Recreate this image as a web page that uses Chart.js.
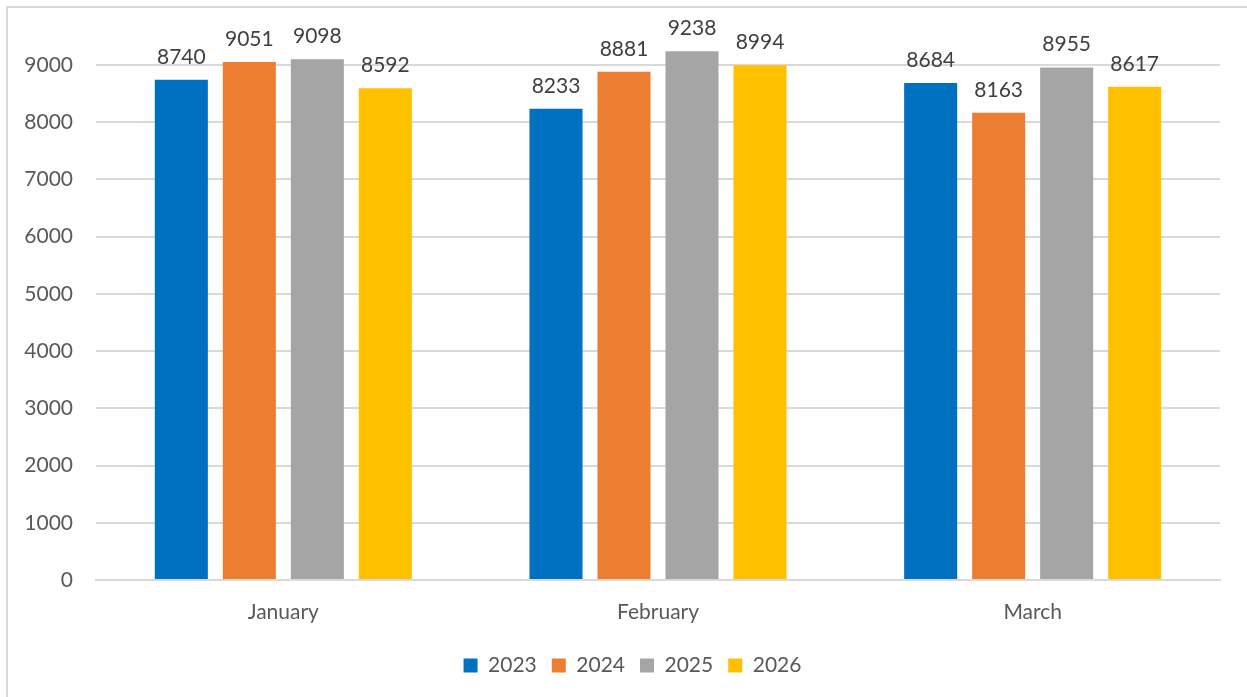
<!DOCTYPE html>
<html>
<head>
<meta charset="utf-8">
<script src="https://cdn.jsdelivr.net/npm/chart.js@4"></script>
<style>
    body { margin: 0; background: #fff; }
    #frame { position: absolute; left: 6px; top: 6px; width: 1260px; height: 720px; border: 2px solid #d9d9d9; }
    #chart { position: absolute; left: 0; top: 0; }
</style>
</head>
<body>
<div id="frame"></div>
<canvas id="chart" width="1247" height="697"></canvas>
<script>
const months = ['January', 'February', 'March'];
const years = ['2023', '2024', '2025', '2026'];
const values2023 = [8740, 8233, 8684];
const values2024 = [9051, 8881, 8163];
const values2025 = [9098, 9238, 8955];
const values2026 = [8592, 8994, 8617];
const yTicks = [0, 1000, 2000, 3000, 4000, 5000, 6000, 7000, 8000, 9000];
const yearColors = ['#0070c0', '#ed7d31', '#a5a5a5', '#ffc000'];

const textColor = '#595959';
const fontFamily = 'Lato, "Open Sans", sans-serif';

// draws the value above each bar
const valueLabels = {
    id: 'valueLabels',
    afterDatasetsDraw(chart) {
        let ctx = chart.ctx;
        ctx.save();
        ctx.font = '21px ' + fontFamily;
        ctx.fillStyle = '#404040';
        ctx.textAlign = 'center';
        ctx.textBaseline = 'alphabetic';
        chart.data.datasets.forEach((ds, i) => {
            chart.getDatasetMeta(i).data.forEach((bar, j) => {
                ctx.fillText(ds.data[j], bar.x, bar.y - 16);
            });
        });
        ctx.restore();
    },
};

new Chart(document.getElementById('chart'), {
    type: 'bar',
    data: {
        labels: months,
        datasets: [values2023, values2024, values2025, values2026].map((vals, i) => ({
            label: years[i],
            data: vals,
            backgroundColor: yearColors[i],
            categoryPercentage: 0.726,
            barPercentage: 0.78,
        })),
    },
    options: {
        responsive: false,
        animation: false,
        layout: {
            padding: { left: 18, right: 0, top: 42, bottom: 11 },
        },
        plugins: {
            legend: {
                position: 'bottom',
                labels: {
                    boxWidth: 14,
                    boxHeight: 14,
                    padding: 15,
                    color: textColor,
                    font: { size: 21, family: fontFamily },
                },
            },
            tooltip: { enabled: false },
        },
        scales: {
            x: {
                grid: { display: false },
                border: { color: '#d9d9d9', width: 2 },
                ticks: {
                    color: textColor,
                    padding: 12,
                    font: { size: 21, family: fontFamily },
                },
                afterFit(scale) { scale.height = 60; },
            },
            y: {
                min: 0,
                max: 9400,
                afterBuildTicks(scale) {
                    scale.ticks = yTicks.map(v => ({ value: v }));
                },
                grid: { color: '#d9d9d9', lineWidth: 2, drawTicks: false },
                border: { display: false },
                ticks: {
                    color: textColor,
                    padding: 23,
                    font: { size: 21, family: fontFamily },
                    callback: v => String(v),
                },
                afterFit(scale) { scale.width = 78; },
            },
            // empty axis that keeps the gap on the right of the plot
            yRight: {
                position: 'right',
                min: 0,
                max: 9400,
                grid: { display: false },
                border: { display: false },
                ticks: { display: false },
                afterFit(scale) { scale.width = 27; },
            },
        },
    },
    plugins: [valueLabels],
});
</script>
</body>
</html>
